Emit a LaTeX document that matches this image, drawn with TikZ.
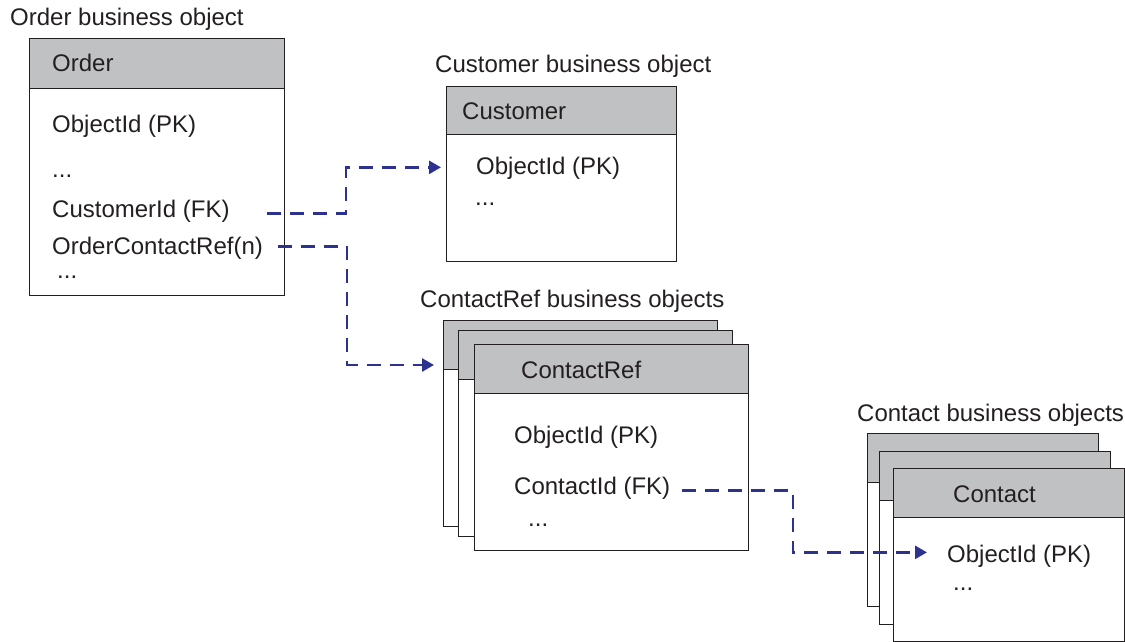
\documentclass[tikz,border=0pt]{standalone}
\usepackage{fontspec}
\setmainfont{Liberation Sans}
\usetikzlibrary{arrows.meta}
\definecolor{headgray}{RGB}{192,193,195}
\definecolor{linkblue}{RGB}{45,50,145}
\definecolor{inkgray}{RGB}{35,31,32}
\begin{document}
\begin{tikzpicture}[x=1pt,y=-1pt,
    txt/.style={inner sep=0pt,anchor=base west,text=inkgray,font=\fontsize{24}{28}\selectfont},
    bodybox/.style={draw=inkgray,fill=white,line width=1.2pt,anchor=north west,inner sep=0pt},
    headbox/.style={draw=inkgray,fill=headgray,line width=1.2pt,anchor=north west,inner sep=0pt},
    link/.style={draw=linkblue,line width=2.6pt,dash pattern=on 14pt off 9pt,
        -{Triangle[length=12pt,width=13pt]}}]
    \useasboundingbox (0,0) rectangle (1125,642);

    % Order business object
    \node[txt] (ordertitle) at (10,26) {Order business object};
    \node[bodybox,minimum width=255pt,minimum height=257pt] (orderbox) at (29,38) {};
    \node[headbox,minimum width=255pt,minimum height=50pt] (orderhead) at (orderbox.north west) {};
    \node[txt] (ordername) at (52,71) {Order};
    \node[txt] (orderpk) at (52,132) {ObjectId (PK)};
    \node[txt] (orderdots) at (52,177) {...};
    \node[txt] (custfk) at (52,217) {CustomerId (FK)};
    \node[txt] (ocref) at (52,254) {OrderContactRef(n)};
    \node[txt] (orderdotsb) at (57,278) {...};

    % Customer business object
    \node[txt] (custtitle) at (435,73) {Customer business object};
    \node[bodybox,minimum width=230pt,minimum height=175pt] (custbox) at (446,86) {};
    \node[headbox,minimum width=230pt,minimum height=48pt] (custhead) at (custbox.north west) {};
    \node[txt] (custname) at (462,119) {Customer};
    \node[txt] (custpk) at (476,174) {ObjectId (PK)};
    \node[txt] (custdots) at (475,205) {...};

    % ContactRef business objects (stack of three)
    \node[txt] (crtitle) at (420,307) {ContactRef business objects};
    \foreach \i/\x/\y in {1/443/320,2/458/330,3/474/344}{%
        \node[bodybox,minimum width=274pt,minimum height=206pt] (crbox\i) at (\x,\y) {};
        \node[headbox,minimum width=274pt,minimum height=49pt] (crhead\i) at (crbox\i.north west) {};
    }
    \node[txt] (crname) at (521,378) {ContactRef};
    \node[txt] (crpk) at (514,443) {ObjectId (PK)};
    \node[txt] (contfk) at (514,494) {ContactId (FK)};
    \node[txt] (crdots) at (528,526) {...};
    \coordinate (crin) at (434,365);

    % Contact business objects (stack of three)
    \node[txt] (cttitle) at (857,421) {Contact business objects};
    \foreach \i/\x/\y in {1/867/433,2/879/451,3/893/468}{%
        \node[bodybox,minimum width=231pt,minimum height=173pt] (ctbox\i) at (\x,\y) {};
        \node[headbox,minimum width=231pt,minimum height=49pt] (cthead\i) at (ctbox\i.north west) {};
    }
    \node[txt] (ctname) at (953,502) {Contact};
    \node[txt] (ctpk) at (947,562) {ObjectId (PK)};
    \node[txt] (ctdots) at (953,590) {...};

    % Links
    \draw[link] ([xshift=37pt,yshift=1pt]custfk.mid east)
        -| ([xshift=-100pt,yshift=4pt]custbox.west |- custpk.mid)
        -- ([xshift=-5pt,yshift=4pt]custbox.west |- custpk.mid);
    \draw[link] ([xshift=15pt,yshift=5pt]ocref.mid east) -| ([xshift=-87pt]crin) -- (crin);
    \draw[link] ([xshift=12pt,yshift=1pt]contfk.mid east)
        -| ([xshift=-154pt,yshift=7pt]ctpk.mid west)
        -- ([xshift=-20pt,yshift=7pt]ctpk.mid west);
\end{tikzpicture}
\end{document}
